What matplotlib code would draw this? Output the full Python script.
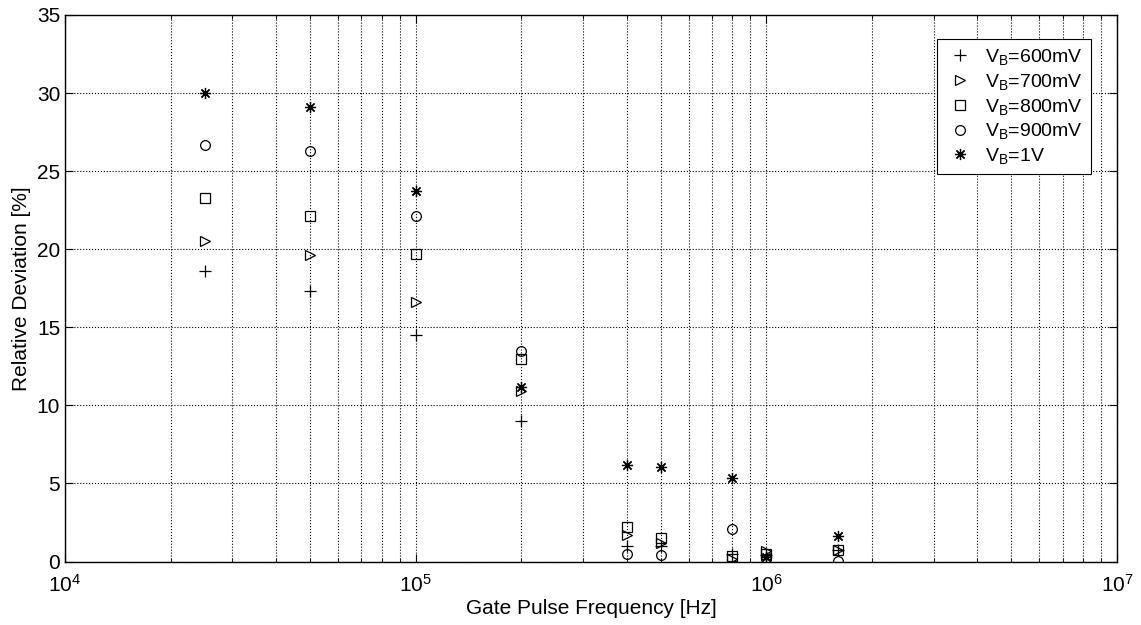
import matplotlib.pyplot as plt

plt.rcParams['font.family'] = ['Liberation Sans', 'DejaVu Sans']
plt.rcParams['mathtext.fontset'] = 'custom'
plt.rcParams['mathtext.rm'] = 'Liberation Sans'
plt.rcParams['mathtext.it'] = 'Liberation Sans'

freq = [25e3, 50e3, 100e3, 200e3, 400e3, 500e3, 800e3, 1e6, 1.6e6]

vb600 = [18.6, 17.3, 14.5, 9.0, 1.0, 1.0, 0.5, 0.4, 0.75]
vb700 = [20.5, 19.6, 16.6, 10.9, 1.7, 1.2, 0.15, 0.65, 0.75]
vb800 = [23.3, 22.1, 19.7, 13.0, 2.2, 1.5, 0.35, 0.45, 0.75]
vb900 = [26.7, 26.3, 22.1, 13.5, 0.45, 0.4, 2.05, 0.15, 0.05]
vb1000 = [30.0, 29.1, 23.7, 11.2, 6.2, 6.05, 5.35, 0.3, 1.65]

series = [
    (vb600, '+', 8, r'V$_\mathrm{B}$=600mV'),
    (vb700, '>', 7, r'V$_\mathrm{B}$=700mV'),
    (vb800, 's', 6.5, r'V$_\mathrm{B}$=800mV'),
    (vb900, 'o', 7, r'V$_\mathrm{B}$=900mV'),
    (vb1000, (8, 2, 0), 8, r'V$_\mathrm{B}$=1V'),
]

fig = plt.figure(figsize=(11.41, 6.25), dpi=100)
ax = fig.add_axes([0.057, 0.1016, 0.922, 0.8744])

for vals, m, ms, lab in series:
    ax.plot(freq, vals, linestyle='none', marker=m, color='k',
            markerfacecolor='none', markersize=ms, markeredgewidth=0.9, label=lab)

ax.set_xscale('log')
ax.set_xlim(1e4, 1e7)
ax.set_ylim(0, 35)
ax.set_yticks(range(0, 36, 5))
ax.grid(True, which='major', linestyle=':', color='k', linewidth=0.8)
ax.grid(True, which='minor', axis='x', linestyle=':', color='k', linewidth=0.8)
ax.tick_params(which='both', direction='in', top=True, right=True, labelsize=15)
ax.tick_params(which='major', length=6)
ax.tick_params(which='minor', length=3)
ax.tick_params(axis='x', which='major', pad=9)
for s in ax.spines.values():
    s.set_linewidth(1.0)
ax.set_xlabel('Gate Pulse Frequency [Hz]', fontsize=15, labelpad=2)
ax.set_ylabel('Relative Deviation [%]', fontsize=15)

leg = ax.legend(loc='upper right', bbox_to_anchor=(0.9753, 0.956), borderaxespad=0,
                fontsize=14, fancybox=False, edgecolor='k', framealpha=1,
                handletextpad=0.5, labelspacing=0.25, handlelength=1.6)
leg.get_frame().set_linewidth(0.8)

fig.savefig('out.png', dpi=100)
